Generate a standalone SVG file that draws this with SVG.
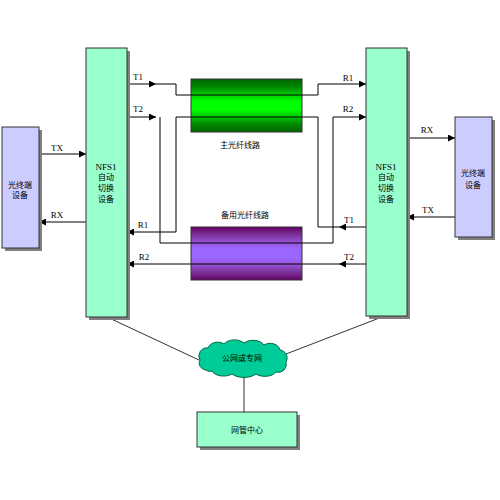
<svg xmlns="http://www.w3.org/2000/svg" width="500" height="500" viewBox="0 0 500 500">
<defs>
<marker id="arr" viewBox="0 0 10 10" refX="10" refY="5" markerWidth="7" markerHeight="7" markerUnits="userSpaceOnUse" orient="auto"><path d="M0,0 L10,5 L0,10 Z" fill="#000"/></marker>
<linearGradient id="gGreen" x1="0" y1="0" x2="0" y2="1">
<stop offset="0" stop-color="#006600"/><stop offset="0.15" stop-color="#008800"/><stop offset="0.3" stop-color="#00cc00"/><stop offset="0.42" stop-color="#00ff00"/><stop offset="0.58" stop-color="#00ff00"/><stop offset="0.7" stop-color="#00cc00"/><stop offset="0.85" stop-color="#008800"/><stop offset="1" stop-color="#006600"/>
</linearGradient>
<linearGradient id="gPurple" x1="0" y1="0" x2="0" y2="1">
<stop offset="0" stop-color="#660066"/><stop offset="0.15" stop-color="#7a3399"/><stop offset="0.3" stop-color="#9955dd"/><stop offset="0.42" stop-color="#9966ff"/><stop offset="0.58" stop-color="#9966ff"/><stop offset="0.7" stop-color="#9955dd"/><stop offset="0.85" stop-color="#7a3399"/><stop offset="1" stop-color="#660066"/>
</linearGradient>
</defs>
<style>
.shadow{fill:#808080}
.nfs{fill:#99ffcc;stroke:#333;stroke-width:1}
.opt{fill:#ccccff;stroke:#333;stroke-width:1}
.ln{fill:none;stroke:#000;stroke-width:1}
.conn{fill:none;stroke:#333;stroke-width:1}
.lbl{font-family:"Liberation Serif",serif;font-size:9px;fill:#000;text-anchor:middle}
.cn{font-family:"Noto Sans CJK SC","Noto Sans",sans-serif;font-size:8px;fill:#000;text-anchor:middle}
</style>
<rect width="500" height="500" fill="#fff"/>

<g id="connectors">
<!-- left side TX/RX -->
<path class="ln" d="M39,154 H86" marker-end="url(#arr)"/>
<path class="ln" d="M86,222 H39" marker-end="url(#arr)"/>
<!-- right side RX/TX -->
<path class="ln" d="M407,138 H455" marker-end="url(#arr)"/>
<path class="ln" d="M455,217 H407" marker-end="url(#arr)"/>
<!-- left T1 -->
<path class="ln" d="M127,84 H156" marker-end="url(#arr)"/>
<path class="ln" d="M156,84 H176 V95 H318 V84 H366" marker-end="url(#arr)"/>
<!-- left T2 -->
<path class="ln" d="M127,117 H156" marker-end="url(#arr)"/>
<path class="ln" d="M160,117 V243 H333 V117 H366" marker-end="url(#arr)"/>
<!-- green lower line to left R1 and right T1 -->
<path class="ln" d="M366,227 H339" marker-end="url(#arr)"/>
<path class="ln" d="M339,227 H318 V117 H176 V232 H127" marker-end="url(#arr)"/>
<!-- T2 right to R2 left -->
<path class="ln" d="M366,264 H339" marker-end="url(#arr)"/>
<path class="ln" d="M339,264 H127" marker-end="url(#arr)"/>
<!-- network lines -->
<path class="conn" d="M107,317 L199,360"/>
<path class="conn" d="M382,317 L286,354"/>
<path class="conn" d="M244,374 V412"/>
</g>

<g id="main-fiber">
<rect x="191" y="79" width="111" height="53" fill="url(#gGreen)" stroke="#333"/>
<path class="ln" d="M191,95 H302 M191,117 H302"/>
<text class="cn" x="240" y="148">主光纤线路</text>
</g>

<g id="backup-fiber">
<rect x="191" y="227" width="111" height="53" fill="url(#gPurple)" stroke="#333"/>
<path class="ln" d="M191,243 H302 M191,264 H302"/>
<text class="cn" x="245" y="218">备用光纤线路</text>
</g>

<g id="left-nfs">
<rect class="shadow" x="89" y="51" width="41" height="269"/>
<rect class="nfs" x="86" y="48" width="41" height="269"/>
<text class="lbl" x="106" y="170">NFS1</text>
<text class="cn" x="106" y="180">自动</text>
<text class="cn" x="106" y="191">切换</text>
<text class="cn" x="106" y="202">设备</text>
</g>

<g id="right-nfs">
<rect class="shadow" x="369" y="51" width="41" height="268"/>
<rect class="nfs" x="366" y="48" width="41" height="268"/>
<text class="lbl" x="386" y="170">NFS1</text>
<text class="cn" x="386" y="180">自动</text>
<text class="cn" x="386" y="191">切换</text>
<text class="cn" x="386" y="202">设备</text>
</g>

<g id="left-opt">
<rect class="shadow" x="5" y="130" width="37" height="121"/>
<rect class="opt" x="2" y="127" width="37" height="121"/>
<text class="cn" x="20" y="188">光终端</text>
<text class="cn" x="20" y="198">设备</text>
</g>

<g id="right-opt">
<rect class="shadow" x="458" y="120" width="37" height="120"/>
<rect class="opt" x="455" y="117" width="37" height="120"/>
<text class="cn" x="473" y="176">光终端</text>
<text class="cn" x="473" y="188">设备</text>
</g>

<g id="labels">
<text class="lbl" x="138" y="80">T1</text>
<text class="lbl" x="138" y="112">T2</text>
<text class="lbl" x="57" y="151">TX</text>
<text class="lbl" x="57" y="218">RX</text>
<text class="lbl" x="143" y="228">R1</text>
<text class="lbl" x="144" y="260">R2</text>
<text class="lbl" x="348" y="81">R1</text>
<text class="lbl" x="348" y="112">R2</text>
<text class="lbl" x="427" y="133">RX</text>
<text class="lbl" x="428" y="213">TX</text>
<text class="lbl" x="349" y="223">T1</text>
<text class="lbl" x="349" y="260">T2</text>
</g>

<g id="cloud">
<path d="M206,370 a8,7 0 0 1 -6,-10 a8,8 0 0 1 8,-12 a10,8 0 0 1 16,-4 a12,8 0 0 1 20,-1 a12,8 0 0 1 20,2 a10,8 0 0 1 16,5 a8,8 0 0 1 6,12 a8,8 0 0 1 -10,10 a12,7 0 0 1 -20,2 a14,7 0 0 1 -24,0 a12,7 0 0 1 -20,-3 a6,6 0 0 1 -6,-1 Z" fill="#00cc99" stroke="#006644" stroke-width="1"/>
<text class="cn" x="242" y="361">公网或专网</text>
</g>

<g id="nms">
<rect class="shadow" x="200" y="415" width="100" height="35"/>
<rect class="nfs" x="197" y="412" width="100" height="35"/>
<text class="cn" x="247" y="433">网管中心</text>
</g>
</svg>
